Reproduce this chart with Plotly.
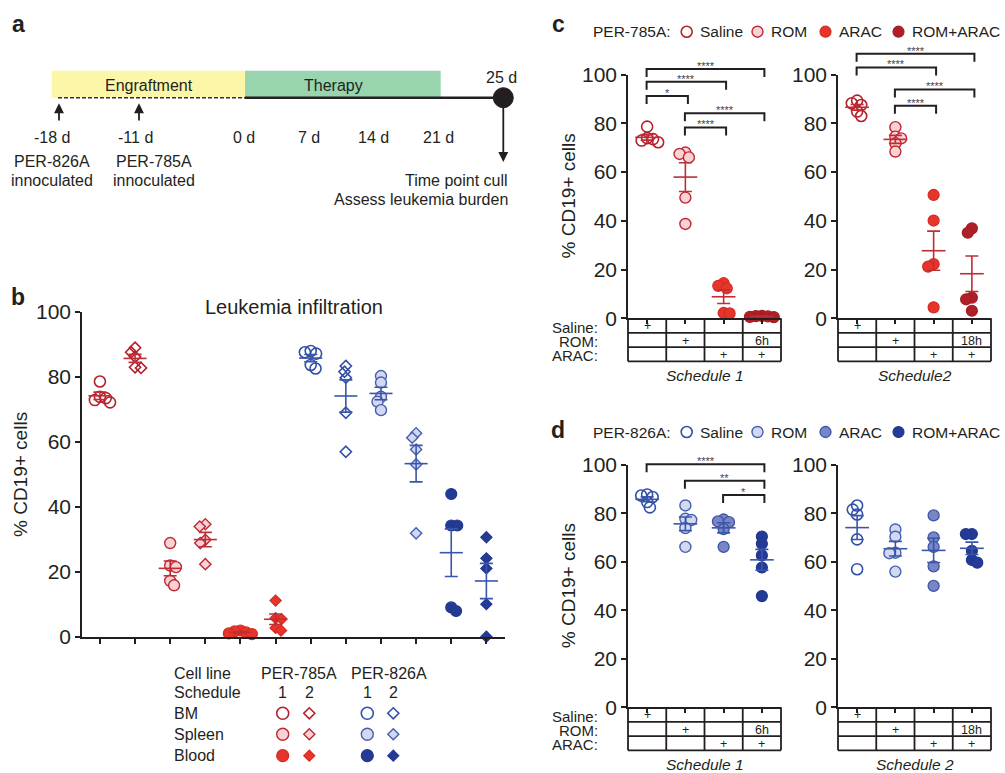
import math
import numpy as np
import plotly.graph_objects as go

W, H = 1005, 773
FONT = "Liberation Sans, Arial, Helvetica, sans-serif"
INK = "#231F20"

# ---------------- data ----------------
# Panel b: leukemia infiltration, % CD19+ cells
b_categories = ["PER-785A S1 BM", "PER-785A S2 BM", "PER-785A S1 Spleen", "PER-785A S2 Spleen",
                "PER-785A S1 Blood", "PER-785A S2 Blood", "PER-826A S1 BM", "PER-826A S2 BM",
                "PER-826A S1 Spleen", "PER-826A S2 Spleen", "PER-826A S1 Blood", "PER-826A S2 Blood"]
b_785A_s1_bm = [78.6, 73.9, 73.5, 72.9, 72.2]
b_785A_s2_bm = [89.0, 87.6, 86.2, 83.0, 82.8]
b_785A_s1_spleen = [28.9, 22.0, 21.5, 17.3, 15.9]
b_785A_s2_spleen = [34.7, 34.0, 29.9, 28.9, 22.4]
b_785A_s1_blood = [2.0, 1.7, 1.4, 1.1, 0.9]
b_785A_s2_blood = [11.2, 5.8, 5.5, 2.8, 2.0]
b_826A_s1_bm = [88.0, 87.6, 87.2, 83.7, 82.6]
b_826A_s2_bm = [83.4, 81.6, 79.8, 69.0, 57.0]
b_826A_s1_spleen = [80.3, 78.3, 73.9, 72.4, 69.8]
b_826A_s2_spleen = [62.7, 61.3, 57.7, 53.1, 31.9]
b_826A_s1_blood = [44.0, 34.3, 34.3, 9.1, 8.0]
b_826A_s2_blood = [30.7, 24.2, 21.1, 10.1, 0.1]
b_values = [b_785A_s1_bm, b_785A_s2_bm, b_785A_s1_spleen, b_785A_s2_spleen,
            b_785A_s1_blood, b_785A_s2_blood, b_826A_s1_bm, b_826A_s2_bm,
            b_826A_s1_spleen, b_826A_s2_spleen, b_826A_s1_blood, b_826A_s2_blood]

treatments = ["Saline", "ROM", "ARAC", "ROM+ARAC"]
# Panel c: PER-785A
c_s1_saline = [78.6, 73.9, 73.5, 72.9, 72.2]
c_s1_rom = [68.0, 67.4, 66.0, 49.5, 38.7]
c_s1_arac = [14.4, 13.3, 12.3, 2.2, 2.0]
c_s1_romarac = [1.0, 0.9, 0.8, 0.6, 0.5]
c_s2_saline = [89.3, 88.2, 87.5, 84.8, 83.0]
c_s2_rom = [78.4, 74.5, 73.8, 71.8, 68.4]
c_s2_arac = [50.6, 40.1, 22.2, 21.2, 4.5]
c_s2_romarac = [36.9, 35.1, 8.5, 7.8, 3.1]
# Panel d: PER-826A
d_s1_saline = [87.8, 87.4, 86.8, 84.7, 82.5]
d_s1_rom = [83.3, 77.8, 77.3, 74.0, 66.2]
d_s1_arac = [77.5, 76.7, 76.4, 73.5, 66.2]
d_s1_romarac = [70.5, 67.5, 62.7, 57.7, 45.9]
d_s2_saline = [83.3, 81.6, 79.6, 69.3, 57.0]
d_s2_rom = [73.4, 70.4, 63.8, 63.6, 56.0]
d_s2_arac = [79.2, 70.1, 66.2, 58.2, 50.1]
d_s2_romarac = [71.5, 71.5, 64.6, 60.8, 59.7]

# significance comparisons: (group i, group j, bracket level in %, label)
c_s1_sig = [(0, 3, 102.3, "****"), (0, 2, 97.0, "****"), (0, 1, 91.2, "*"),
            (1, 3, 84.1, "****"), (1, 2, 78.3, "****")]
c_s2_sig = [(0, 3, 108.5, "****"), (0, 2, 102.9, "****"), (1, 3, 93.9, "****"), (1, 2, 87.2, "****")]
d_s1_sig = [(0, 3, 100.3, "****"), (1, 3, 93.5, "**"), (2, 3, 87.6, "*")]

table_rows = ["Saline:", "ROM:", "ARAC:"]
table_s1 = [["+", "", "", ""], ["", "+", "", "6h"], ["", "", "+", "+"]]
table_s2 = [["+", "", "", ""], ["", "+", "", "18h"], ["", "", "+", "+"]]

y_ticks = [0, 20, 40, 60, 80, 100]

# ---------------- styles ----------------
CLEAR = "rgba(255,255,255,0)"
RED_OPEN = dict(color=CLEAR, line=dict(color="#B4202C", width=1.6))
PINK = dict(color="#F9D2D6", line=dict(color="#BD2832", width=1.4))
RED = dict(color="#E6362B", line=dict(color="#D42A22", width=1.2))
DKRED = dict(color="#AF1F27", line=dict(color="#A51C24", width=1.2))
BLUE_OPEN = dict(color=CLEAR, line=dict(color="#3250A8", width=1.6))
LAV = dict(color="#D3D8EF", line=dict(color="#4560B0", width=1.4))
MIDBLUE = dict(color="#7986C5", line=dict(color="#3E55A6", width=1.3))
NAVY = dict(color="#243B95", line=dict(color="#22388E", width=1.2))
RED_MEAN = "#BF2D37"
BLUE_MEAN = "#3A55AC"

b_styles = [("circle", RED_OPEN), ("diamond", RED_OPEN), ("circle", PINK), ("diamond", PINK),
            ("circle", RED), ("diamond", RED), ("circle", BLUE_OPEN), ("diamond", BLUE_OPEN),
            ("circle", LAV), ("diamond", LAV), ("circle", NAVY), ("diamond", NAVY)]
b_means = [RED_MEAN] * 6 + [BLUE_MEAN] * 6
c_styles = [RED_OPEN, PINK, RED, DKRED]
d_styles = [BLUE_OPEN, LAV, MIDBLUE, NAVY]

# ---------------- geometry (pixels) ----------------
GB = dict(x0=82, x1=505, xr=[-0.51, 11.53], y0=637, y1=312)
GC1 = dict(x0=628, x1=781, xr=[-0.5, 3.5], y0=318.3, y1=74.5)
GC2 = dict(x0=838, x1=991, xr=[-0.5, 3.5], y0=318.3, y1=74.5)
GD1 = dict(x0=628, x1=781, xr=[-0.5, 3.5], y0=707.3, y1=465)
GD2 = dict(x0=838, x1=991, xr=[-0.5, 3.5], y0=707.3, y1=465)


def px_x(g, v):
    return g["x0"] + (v - g["xr"][0]) / (g["xr"][1] - g["xr"][0]) * (g["x1"] - g["x0"])


def px_y(g, v):
    return g["y0"] + (g["y1"] - g["y0"]) * v / 100.0


def swarm(vals, g, d=6.0):
    ppu = (g["y0"] - g["y1"]) / 100.0
    ppc = (g["x1"] - g["x0"]) / (g["xr"][1] - g["xr"][0])
    n = len(vals)
    order = sorted(range(n), key=lambda i: -vals[i])
    placed, offs = [], [0.0] * n
    for k, i in enumerate(order):
        y = vals[i] * ppu
        cands = [0.0]
        for a, b in placed:
            dy = abs(y - b)
            if dy < d:
                dx = math.sqrt(d * d - dy * dy)
                cands += [a + dx, a - dx]
        sign = 1 if k % 2 == 0 else -1
        cands.sort(key=lambda c: (round(abs(c), 6), -sign * c))
        chosen = cands[-1]
        for c in cands:
            if all((c - a) ** 2 + (y - b) ** 2 >= d * d - 1e-6 for a, b in placed):
                chosen = c
                break
        placed.append((chosen, y))
        offs[i] = chosen / ppc
    return offs


fig = go.Figure()
layout = {}
shapes, annots = [], []
panels = [("", GB, list(range(12))), ("2", GC1, [0, 1, 2, 3]), ("3", GC2, [0, 1, 2, 3]),
          ("4", GD1, [0, 1, 2, 3]), ("5", GD2, [0, 1, 2, 3])]
for suf, g, tv in panels:
    layout["xaxis" + suf] = dict(domain=[g["x0"] / W, g["x1"] / W], range=g["xr"], anchor="y" + suf,
                                 showline=True, linecolor=INK, linewidth=1.6 if suf == "" else 2,
                                 ticks="outside", ticklen=5 if suf == "" else 4, tickwidth=1.5,
                                 tickcolor=INK, tickvals=tv, showticklabels=False, showgrid=False,
                                 zeroline=False, fixedrange=True, automargin=False)
    layout["yaxis" + suf] = dict(domain=[1 - g["y0"] / H, 1 - g["y1"] / H], range=[0, 100],
                                 anchor="x" + suf, showline=True, linecolor=INK, linewidth=1.6,
                                 ticks="outside", ticklen=5, tickwidth=1.5, tickcolor=INK,
                                 tickvals=y_ticks, tickfont=dict(size=21, family=FONT, color=INK),
                                 showgrid=False, zeroline=False, fixedrange=True, automargin=False)
layout["xaxis6"] = dict(domain=[0, 1], range=[0, W], anchor="y6", visible=False, fixedrange=True,
                        automargin=False)
layout["yaxis6"] = dict(domain=[0, 1], range=[H, 0], anchor="x6", visible=False, fixedrange=True,
                        automargin=False)


def add_group(suf, g, i, vals, symbol, style, size, mean_col, mean_size):
    offs = swarm(vals, g)
    xa = "x" + suf
    ya = "y" + suf
    fig.add_trace(go.Scatter(x=[i + o for o in offs], y=vals, mode="markers", xaxis=xa, yaxis=ya,
                             marker=dict(symbol=symbol, size=size, color=style["color"],
                                         line=style["line"]),
                             cliponaxis=False, showlegend=False, hoverinfo="y"))
    m = float(np.mean(vals))
    sem = float(np.std(vals, ddof=1) / math.sqrt(len(vals)))
    fig.add_trace(go.Scatter(x=[i], y=[m], mode="markers", xaxis=xa, yaxis=ya,
                             marker=dict(symbol="line-ew", size=mean_size, color=mean_col,
                                         line=dict(color=mean_col, width=1.6)),
                             error_y=dict(type="data", array=[sem], color=mean_col, thickness=1.6, width=6.5),
                             cliponaxis=False, showlegend=False, hoverinfo="y"))


# panel b
for i, vals in enumerate(b_values):
    sym, st = b_styles[i]
    add_group("", GB, i, vals, sym, st, 11 if sym == "circle" else 8.6, b_means[i], 16.5)

# panels c, d
for suf, g, groups, styles, mc in [("2", GC1, [c_s1_saline, c_s1_rom, c_s1_arac, c_s1_romarac], c_styles, RED_MEAN),
                                   ("3", GC2, [c_s2_saline, c_s2_rom, c_s2_arac, c_s2_romarac], c_styles, RED_MEAN),
                                   ("4", GD1, [d_s1_saline, d_s1_rom, d_s1_arac, d_s1_romarac], d_styles, BLUE_MEAN),
                                   ("5", GD2, [d_s2_saline, d_s2_rom, d_s2_arac, d_s2_romarac], d_styles, BLUE_MEAN)]:
    for i, vals in enumerate(groups):
        add_group(suf, g, i, vals, "circle", styles[i], 11, mc, 17)


def text(x, y, s, size=16, anchor="center", color=INK, angle=0, vanchor="middle"):
    annots.append(dict(x=x, y=y, xref="x6", yref="y6", text=s, showarrow=False, xanchor=anchor,
                       yanchor=vanchor, textangle=angle, font=dict(size=size, family=FONT, color=color)))


def line(x0, y0, x1, y1, width=1.8, color=INK, dash=None):
    sh = dict(type="line", x0=x0, y0=y0, x1=x1, y1=y1, xref="x6", yref="y6",
              line=dict(color=color, width=width))
    if dash:
        sh["line"]["dash"] = dash
    shapes.append(sh)


# significance brackets
def brackets(g, sig, leg=8):
    for i, j, lvl, lab in sig:
        xa = px_x(g, i) - 0.5
        xb = px_x(g, j) + 2.5
        yb = px_y(g, lvl)
        shapes.append(dict(type="path", xref="x6", yref="y6",
                           path=f"M{xa:.1f},{yb + leg:.1f} L{xa:.1f},{yb:.1f} L{xb:.1f},{yb:.1f} L{xb:.1f},{yb + leg:.1f}",
                           line=dict(color=INK, width=2)))
        text((xa + xb) / 2, yb - 3, lab, size=11, color="#444")


brackets(GC1, c_s1_sig)
brackets(GC2, c_s2_sig)
brackets(GD1, d_s1_sig)


# treatment tables
def table(g, marks, labels, sched):
    rows = [g["y0"], g["y0"] + 14.6, g["y0"] + 28.8, g["y0"] + 43.0]
    cols = [px_x(g, k - 0.5) for k in range(5)]
    for r in rows[1:]:
        line(cols[0], r, cols[-1], r, width=1.8)
    for c in cols:
        line(c, rows[0], c, rows[-1], width=1.8)
    for ri in range(3):
        yc = (rows[ri] + rows[ri + 1]) / 2 + 0.5
        if labels:
            text(g["x0"] - 28, yc + 1, table_rows[ri], size=15, anchor="right")
        for ci in range(4):
            if marks[ri][ci]:
                text((cols[ci] + cols[ci + 1]) / 2, yc, marks[ri][ci], size=12.5)
    text((cols[0] + cols[-1]) / 2, rows[-1] + 14.5, f"<i>{sched}</i>", size=15.5)


table(GC1, table_s1, True, "Schedule 1")
table(GC2, table_s2, False, "Schedule2")
table(GD1, table_s1, True, "Schedule 1")
table(GD2, table_s2, False, "Schedule 2")

# axis titles
text(20, 475, "% CD19+ cells", size=19, angle=-90)
text(568, (GC1["y0"] + GC1["y1"]) / 2, "% CD19+ cells", size=19, angle=-90)
text(568, (GD1["y0"] + GD1["y1"]) / 2, "% CD19+ cells", size=19, angle=-90)
text(294, 307, "Leukemia infiltration", size=20)

# panel letters
LEG_D_Y = 432
for lab, x, y in [("a", 18, 24), ("b", 18, 297), ("c", 558, 24), ("d", 558, LEG_D_Y - 2)]:
    text(x, y, f"<b>{lab}</b>", size=23)

# legends for c, d
leg_items_x = [686.7, 757.5, 825.5, 898.5]
leg_text_x = [697.5, 768.5, 836.5, 909.5]
for title, ly, styles in [("PER-785A:", 31.7, c_styles), ("PER-826A:", LEG_D_Y, d_styles)]:
    text(591, ly, title, size=15.5, anchor="left")
    for k in range(4):
        st = styles[k]
        fig.add_trace(go.Scatter(x=[leg_items_x[k]], y=[ly], mode="markers", xaxis="x6", yaxis="y6",
                                 marker=dict(symbol="circle", size=11, color=st["color"], line=st["line"]),
                                 cliponaxis=False, showlegend=False, hoverinfo="skip"))
        text(leg_text_x[k], ly, treatments[k], size=15.5, anchor="left")

# legend for b
text(171.5, 673.3, "Cell line", anchor="left")
text(171.5, 692.7, "Schedule", anchor="left")
for lab, y in [("BM", 713.3), ("Spleen", 734.3), ("Blood", 755.7)]:
    text(171.5, y, lab, anchor="left")
text(299.3, 673.3, "PER-785A")
text(388.8, 673.3, "PER-826A")
b_leg_x = [282.7, 309.3, 367.3, 393.3]
for x, s in zip(b_leg_x, ["1", "2", "1", "2"]):
    text(x, 692.7, s)
row_y = [713.3, 734.3, 755.7]
for gi in range(12):
    sym, st = b_styles[gi]
    line_idx = gi // 6
    tissue = (gi % 6) // 2
    sched = gi % 2
    fig.add_trace(go.Scatter(x=[b_leg_x[line_idx * 2 + sched]], y=[row_y[tissue]], mode="markers",
                             xaxis="x6", yaxis="y6",
                             marker=dict(symbol=sym, size=12 if sym == "circle" else 8.5,
                                         color=st["color"], line=st["line"]),
                             cliponaxis=False, showlegend=False, hoverinfo="skip"))

# panel a: experimental timeline
shapes.append(dict(type="rect", xref="x6", yref="y6", x0=51.7, x1=245, y0=70.7, y1=97.7,
                   fillcolor="#FCF6A8", line=dict(width=0), layer="below"))
shapes.append(dict(type="rect", xref="x6", yref="y6", x0=245, x1=440.7, y0=70.7, y1=97.7,
                   fillcolor="#98D4AD", line=dict(width=0), layer="below"))
text(149, 85, "Engraftment", size=16)
text(333, 85, "Therapy", size=16)
line(58, 97.7, 245, 97.7, width=1.6, color="#333333", dash="4px,2px")
line(245, 97.7, 503, 97.7, width=2.4, color=INK)
shapes.append(dict(type="circle", xref="x6", yref="y6", x0=493.3, x1=513.3, y0=87.7, y1=107.7,
                   fillcolor=INK, line=dict(color=INK, width=1)))
text(501.7, 77.5, "25 d", size=16)
for hx, hy, tx, ty in [(59, 103.3, 59, 122), (139, 103.3, 139, 122), (503.3, 162, 503.3, 106)]:
    annots.append(dict(x=hx, y=hy, ax=tx, ay=ty, xref="x6", yref="y6", axref="x6", ayref="y6",
                       text="", showarrow=True, arrowhead=2, arrowsize=1.1, arrowwidth=1.8,
                       arrowcolor=INK))
day_labels = ["-18 d", "-11 d", "0 d", "7 d", "14 d", "21 d"]
day_x = [51.7, 135, 244.3, 309.3, 373.3, 438.3]
for s, x in zip(day_labels, day_x):
    text(x, 137.7, s, size=16)
text(51.7, 161.3, "PER-826A", size=16)
text(51.7, 180.5, "innoculated", size=16)
text(154.3, 161.3, "PER-785A", size=16)
text(154.3, 180.5, "innoculated", size=16)
text(509.5, 180.5, "Time point cull", size=16, anchor="right")
text(509.5, 199.5, "Assess leukemia burden", size=16, anchor="right")

fig.update_layout(**layout)
fig.update_layout(template="none", width=W, height=H,
                  margin=dict(l=0, r=0, t=0, b=0, pad=0, autoexpand=False),
                  paper_bgcolor="white", plot_bgcolor="rgba(0,0,0,0)", shapes=shapes,
                  annotations=annots, font=dict(family=FONT, color=INK), showlegend=False)
fig.write_html("out.html", config={"displayModeBar": False},
               post_script="document.body.style.margin='0';document.body.style.overflow='hidden';")
